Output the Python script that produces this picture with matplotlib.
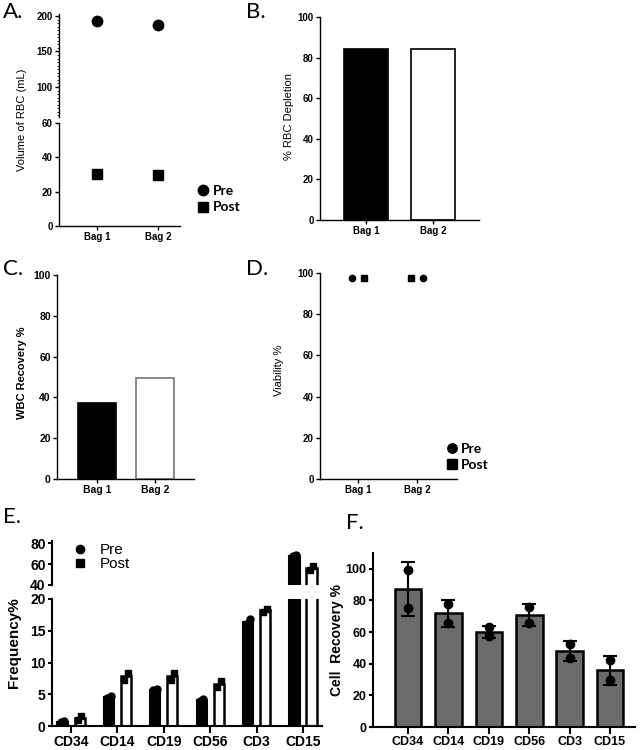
import matplotlib
matplotlib.use('Agg')
import matplotlib.pyplot as plt
import numpy as np
from matplotlib.ticker import MultipleLocator

# --- data ---
bags = ['Bag 1', 'Bag 2']
rbc_pre = [193, 187]
rbc_post = [30.5, 29.5]
rbc_depletion = [84, 84]
wbc_recovery = [37.5, 49.5]
viab_pre = [97.5, 97.5]
viab_post = [97.5, 97.5]

cd_markers = ['CD34', 'CD14', 'CD19', 'CD56', 'CD3', 'CD15']
freq_pre = [[0.6, 0.8], [4.4, 4.7], [5.6, 5.8], [4.0, 4.2], [16.0, 16.9], [67.5, 68.5]]
freq_post = [[1.0, 1.5], [7.2, 8.4], [7.3, 8.3], [6.2, 7.1], [18.0, 18.5], [54, 58]]
cell_recovery = [[99.5, 75], [78, 66], [63, 57.5], [76, 66], [52.5, 43.5], [42.5, 29.5]]

W, H = 640, 750
fig = plt.figure(figsize=(6.4, 7.5), dpi=100)
plt.rcParams['font.family'] = ['Liberation Sans', 'DejaVu Sans']


def rect(x0, y0, x1, y1):
    return [x0 / W, 1 - y1 / H, (x1 - x0) / W, (y1 - y0) / H]


def style(ax, fs=7, lw=1.0, bottom=True):
    for s in ['top', 'right']:
        ax.spines[s].set_visible(False)
    ax.spines['left'].set_linewidth(lw)
    ax.spines['bottom'].set_linewidth(lw)
    if not bottom:
        ax.spines['bottom'].set_visible(False)
    ax.tick_params(labelsize=fs, width=lw, length=3, pad=1.5)
    for t in ax.get_xticklabels() + ax.get_yticklabels():
        t.set_fontweight('bold')


def letter(x, y, s):
    fig.text(x / W, 1 - y / H, s, fontsize=16, family=['Lato', 'DejaVu Sans'],
             va='top', ha='left')


def ylab(x, y, s, fs=8, weight='normal'):
    fig.text(x / W, 1 - y / H, s, rotation=90, fontsize=fs, fontweight=weight,
             ha='center', va='center')


x = np.arange(1, len(bags) + 1)

# ---------- A ----------
axAt = fig.add_axes(rect(59, 14, 180, 117))
axAb = fig.add_axes(rect(59, 123, 180, 226))
for ax in (axAt, axAb):
    ax.plot(x, rbc_pre, 'o', color='black', ms=7.5, clip_on=False)
    ax.plot(x, rbc_post, 's', color='black', ms=7, clip_on=False)
    ax.set_xlim(0.38, 2.36)
axAt.set_ylim(57.7, 202.8)
axAt.set_yticks([100, 150, 200])
axAt.yaxis.set_minor_locator(MultipleLocator(5))
axAt.tick_params(which='minor', length=1.5)
axAt.set_xticks([])
axAb.set_ylim(0, 60)
axAb.set_yticks([0, 20, 40, 60])
axAb.set_xticks(x)
axAb.set_xticklabels(bags)
style(axAt, bottom=False)
style(axAb)
axAt.spines['bottom'].set_visible(False)
ylab(22, 120, 'Volume of RBC (mL)')
axAb.legend(['Pre', 'Post'], loc='center left', bbox_to_anchor=(196 / W, 1 - 199 / H),
            bbox_transform=fig.transFigure, frameon=False, handletextpad=0.2,
            labelspacing=0.35, prop={'family': 'Lato', 'weight': 'bold', 'size': 10},
            handlelength=1.0, borderpad=0, borderaxespad=0)

# ---------- B ----------
axB = fig.add_axes(rect(320, 17, 479, 220))
axB.bar(x, rbc_depletion, width=0.67, color=['black', 'white'], edgecolor='black', linewidth=1.2)
axB.set_xlim(0.31, 2.69)
axB.set_ylim(0, 100)
axB.set_yticks(range(0, 101, 20))
axB.set_xticks(x)
axB.set_xticklabels(bags)
style(axB)
ylab(289, 116, '% RBC Depletion')

# ---------- C ----------
axC = fig.add_axes(rect(57, 275, 194, 479))
axC.bar(x, wbc_recovery, width=0.66, color=['black', 'white'], edgecolor=['black', '#777777'], linewidth=1.2)
axC.set_xlim(0.31, 2.67)
axC.set_ylim(0, 100)
axC.set_yticks(range(0, 101, 20))
axC.set_xticks(x)
axC.set_xticklabels(bags)
style(axC, fs=7.5)
ylab(22, 373, 'WBC Recovery %', weight='bold')

# ---------- D ----------
axD = fig.add_axes(rect(320, 273, 457, 479))
pre_off = [-0.1, 0.1]
post_off = [0.1, -0.1]
axD.plot(x + np.array(pre_off), viab_pre, 'o', color='black', ms=4.5, clip_on=False)
axD.plot(x + np.array(post_off), viab_post, 's', color='black', ms=4.5, clip_on=False)
axD.set_xlim(0.36, 2.68)
axD.set_ylim(0, 100)
axD.set_yticks(range(0, 101, 20))
axD.set_xticks(x)
axD.set_xticklabels(bags)
style(axD)
ylab(279, 370, 'Viability %')
axD.legend(['Pre', 'Post'], loc='center left', bbox_to_anchor=(446 / W, 1 - 457 / H),
           bbox_transform=fig.transFigure, frameon=False, handletextpad=0.3,
           labelspacing=0.3, prop={'family': 'Lato', 'weight': 'bold', 'size': 10},
           handlelength=0.8, borderpad=0, borderaxespad=0, markerscale=1.5)

# ---------- E ----------
xi = np.arange(len(cd_markers))
pre_mean = [np.mean(v) for v in freq_pre]
post_mean = [np.mean(v) for v in freq_post]
axEt = fig.add_axes(rect(52, 541, 322, 585))
axEb = fig.add_axes(rect(52, 599, 322, 726))
jit = np.array([-0.04, 0.04])
for ax in (axEt, axEb):
    ax.bar(xi - 0.185, pre_mean, width=0.22, color='black', edgecolor='black', linewidth=1.5)
    ax.bar(xi + 0.185, post_mean, width=0.22, color='white', edgecolor='black', linewidth=1.8)
    for i in range(len(cd_markers)):
        ax.plot(xi[i] - 0.185 + jit, freq_pre[i], 'o', color='black', ms=5)
        ax.plot(xi[i] + 0.185 + jit, freq_post[i], 's', color='black', ms=5)
    ax.set_xlim(-0.41, 5.41)
axEt.set_ylim(40, 82)
axEt.set_yticks([40, 60, 80])
axEt.set_xticks([])
axEb.set_ylim(0, 20)
axEb.set_yticks([0, 5, 10, 15, 20])
axEb.set_xticks(xi)
axEb.set_xticklabels(cd_markers)
style(axEt, fs=10, lw=1.5, bottom=False)
style(axEb, fs=10, lw=1.5)
axEb.tick_params(axis='x', length=5)
ylab(14, 643, 'Frequency%', fs=11, weight='bold')
axEt.legend(['Pre', 'Post'], loc='upper left', bbox_to_anchor=(72 / W, 1 - 543 / H),
            bbox_transform=fig.transFigure, frameon=False, handletextpad=0.8,
            labelspacing=0.0, prop={'size': 11}, handlelength=1.0,
            borderpad=0, borderaxespad=0, markerscale=1.2)

# ---------- F ----------
axF = fig.add_axes(rect(373, 553, 635, 727))
rec_mean = [np.mean(v) for v in cell_recovery]
rec_sd = [np.std(v, ddof=1) for v in cell_recovery]
axF.bar(xi, rec_mean, width=0.66, color='#6b6b6b', edgecolor='black', linewidth=1.8,
        yerr=rec_sd, capsize=5, error_kw={'elinewidth': 1.5, 'capthick': 1.5})
for i in range(len(cd_markers)):
    axF.plot([xi[i]] * 2, cell_recovery[i], 'o', color='black', ms=6)
axF.set_xlim(-0.87, 5.62)
axF.set_ylim(0, 110)
axF.set_yticks(range(0, 101, 20))
axF.set_xticks(xi)
axF.set_xticklabels(cd_markers)
style(axF, fs=9, lw=1.5)
axF.tick_params(axis='x', length=5)
ylab(337, 640, 'Cell  Recovery %', fs=10, weight='bold')

letter(3, 2, 'A.')
letter(246, 2, 'B.')
letter(3, 259, 'C.')
letter(246, 259, 'D.')
letter(3, 507, 'E.')
letter(346, 513, 'F.')

fig.savefig('out.png', dpi=100)
